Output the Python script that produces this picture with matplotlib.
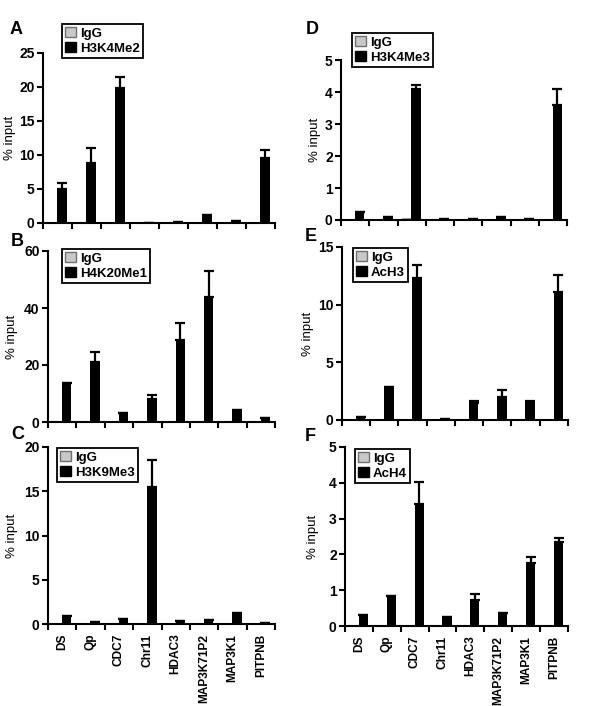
import numpy as np
import matplotlib
matplotlib.use("Agg")
import matplotlib.pyplot as plt
from matplotlib.patches import Patch

plt.rcParams['font.family'] = ['Liberation Sans', 'DejaVu Sans']

# gene loci on the x axis
loci = ["DS", "Qp", "CDC7", "Chr11", "HDAC3", "MAP3K71P2", "MAP3K1", "PITPNB"]

# values (% input); err = upper error bar
igg_A = [0.05, 0.05, 0.1, 0.02, 0.05, 0.05, 0.05, 0.1]
h3k4me2 = [5.0, 8.8, 19.8, 0.0, 0.15, 1.2, 0.25, 9.6]
h3k4me2_err = [0.95, 2.2, 1.7, 0, 0, 0, 0, 1.1]

igg_B = [0.1, 0.1, 0.1, 0.1, 0.1, 0.1, 0.1, 0.1]
h4k20me1 = [13.6, 20.9, 3.0, 8.1, 28.6, 43.8, 4.1, 1.4]
h4k20me1_err = [0, 3.8, 0, 1.2, 6.2, 9.2, 0, 0]

igg_C = [0.02, 0.02, 0.05, 0.02, 0.02, 0.02, 0.02, 0.02]
h3k9me3 = [0.94, 0.2, 0.56, 15.5, 0.37, 0.5, 1.24, 0.15]
h3k9me3_err = [0, 0, 0, 3.0, 0, 0, 0, 0]

igg_D = [0.01, 0.01, 0.05, 0.01, 0.01, 0.01, 0.01, 0.03]
h3k4me3 = [0.25, 0.09, 4.08, 0.02, 0.02, 0.08, 0.02, 3.58]
h3k4me3_err = [0, 0, 0.14, 0, 0, 0, 0, 0.5]

igg_E = [0.02, 0.02, 0.05, 0.02, 0.02, 0.02, 0.02, 0.05]
ach3 = [0.29, 2.88, 12.3, 0.12, 1.5, 1.96, 1.5, 11.1]
ach3_err = [0, 0, 1.15, 0, 0.17, 0.6, 0.17, 1.5]

igg_F = [0.01, 0.01, 0.03, 0.01, 0.02, 0.01, 0.02, 0.02]
ach4 = [0.3, 0.83, 3.4, 0.25, 0.74, 0.37, 1.77, 2.36]
ach4_err = [0, 0, 0.62, 0, 0.14, 0, 0.16, 0.1]

W, H = 600, 706
fig = plt.figure(figsize=(6, 7.06), dpi=100)


def px_axes(left, right, top, bottom):
    return fig.add_axes([left / W, 1 - bottom / H, (right - left) / W, (bottom - top) / H])


def panel(box, igg, vals, err, name, ymax, ystep, letter, letter_xy, leg_xy, ylab_x, xlabels=False):
    ax = px_axes(*box)
    x = np.arange(len(loci))
    ax.bar(x + 0.33, igg, width=0.33, color="#c8c8c8", edgecolor="#808080", linewidth=0.5)
    ax.bar(x + 0.66, vals, width=0.33, color="black")
    ax.errorbar(x + 0.66, vals, yerr=[np.zeros(len(err)), err], fmt="none",
                ecolor="black", elinewidth=1.6, capsize=3.5, capthick=1.6)
    ax.set_xlim(0, 8)
    ax.set_ylim(0, ymax)
    ax.set_yticks(np.arange(0, ymax + ystep / 2, ystep))
    ax.set_xticks(np.arange(0, 9))
    ax.set_xticklabels([])
    if xlabels:
        ax.set_xticks(x + 0.5, minor=True)
        ax.set_xticklabels(loci, minor=True, rotation=90, fontsize=8.6, fontweight="bold")
        ax.tick_params(axis="x", which="minor", length=0, pad=7)
    ax.spines["top"].set_visible(False)
    ax.spines["right"].set_visible(False)
    for s in ["left", "bottom"]:
        ax.spines[s].set_linewidth(1.5)
    ax.tick_params(axis="both", which="major", direction="out", length=4, width=1.5,
                   labelsize=10, pad=2)
    for t in ax.get_yticklabels():
        t.set_fontweight("bold")
    ax.set_ylabel("% input", fontsize=9.5)
    # right edge of the rotated y label at a fixed pixel column
    ax.yaxis.set_label_coords((ylab_x - box[0]) / (box[1] - box[0]), 0.5)
    handles = [Patch(facecolor="#c8c8c8", edgecolor="#707070", label="IgG"),
               Patch(facecolor="black", edgecolor="black", label=name)]
    leg = ax.legend(handles=handles, loc="upper left",
                    bbox_to_anchor=(leg_xy[0] / W, 1 - leg_xy[1] / H),
                    bbox_transform=fig.transFigure, borderaxespad=0,
                    fancybox=False, edgecolor="black", framealpha=1,
                    prop={"weight": "bold", "size": 9.5}, handlelength=0.8,
                    handleheight=0.8, handletextpad=0.3, borderpad=0.25,
                    labelspacing=0.15)
    leg.get_frame().set_linewidth(1.3)
    fig.text(letter_xy[0] / W, 1 - letter_xy[1] / H, letter, fontsize=13,
             fontweight="bold", va="baseline", ha="left")
    return ax


panel((43, 275, 53, 223), igg_A, h3k4me2, h3k4me2_err, "H3K4Me2", 25, 5, "A", (10, 34), (62, 24), 16)
panel((48, 275, 251, 422), igg_B, h4k20me1, h4k20me1_err, "H4K20Me1", 60, 20, "B", (11, 246), (62, 249), 18)
panel((48, 275, 447, 624), igg_C, h3k9me3, h3k9me3_err, "H3K9Me3", 20, 5, "C", (11, 439), (57, 448), 18, xlabels=True)
panel((341, 567, 60, 220), igg_D, h3k4me3, h3k4me3_err, "H3K4Me3", 5, 1, "D", (306, 34), (352, 33), 321)
panel((342, 568, 247, 420), igg_E, ach3, ach3_err, "AcH3", 15, 5, "E", (305, 241), (353, 248), 314)
panel((345, 568, 447, 626), igg_F, ach4, ach4_err, "AcH4", 5, 1, "F", (305, 441), (355, 449), 319, xlabels=True)

fig.savefig("out.png", dpi=100)
